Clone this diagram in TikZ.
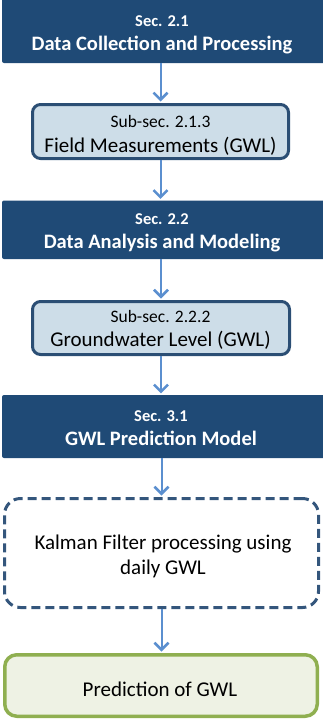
\documentclass[tikz,border=0pt]{standalone}
\usepackage{fontspec}
\setmainfont{Carlito}
\usetikzlibrary{arrows.meta}

\definecolor{secblue}{HTML}{1F4A76}
\definecolor{subfill}{HTML}{CDDDE8}
\definecolor{subedge}{HTML}{2B4E74}
\definecolor{kfedge}{HTML}{34567C}
\definecolor{flowblue}{HTML}{5B8FCF}
\definecolor{outedge}{HTML}{8FAF50}
\definecolor{outfill}{HTML}{EEF2E4}

\begin{document}
\begin{tikzpicture}[x=1pt,y=-1pt,
        secbox/.style={fill=secblue,rounded corners=2pt,minimum width=338pt,inner sep=0pt},
        subbox/.style={draw=subedge,fill=subfill,line width=3pt,rounded corners=8pt,inner sep=0pt},
        sectext/.style={text=white,font=\bfseries\fontsize{20.5}{24}\selectfont,align=center,inner sep=0pt,anchor=base},
        subtext/.style={font=\fontsize{21}{24.5}\selectfont,align=center,inner sep=0pt,anchor=base},
        flow/.style={draw=flowblue,line width=2pt,shorten >=1.5pt,-{Straight Barb[length=7pt,width=14pt,line width=2.5pt]}}]
        \useasboundingbox (0,0) rectangle (322,720);
        \node[secbox,minimum height=69pt] (sec21) at (171,28.5) {};
        \node[sectext] (sec21txt) at (162,50) {{\fontsize{16.5}{18}\selectfont Sec. 2.1}\\Data Collection and Processing};
        \node[subbox,minimum width=256pt,minimum height=54pt] (sub213) at (160.5,131.5) {};
        \node[subtext] (sub213txt) at (160.5,152.3) {{\fontsize{17.5}{20}\selectfont Sub-sec. 2.1.3}\\Field Measurements (GWL)};
        \node[secbox,minimum height=58.5pt] (sec22) at (171,229.75) {};
        \node[sectext] (sec22txt) at (162,248.3) {{\fontsize{16.5}{18}\selectfont Sec. 2.2}\\Data Analysis and Modeling};
        \node[subbox,minimum width=257pt,minimum height=53pt] (sub222) at (161,328) {};
        \node[subtext] (sub222txt) at (160.5,346.7) {{\fontsize{17.5}{20}\selectfont Sub-sec. 2.2.2}\\Groundwater Level (GWL)};
        \node[secbox,minimum height=63pt] (sec31) at (171,426.5) {};
        \node[sectext] (sec31txt) at (161,445.7) {{\fontsize{16.5}{18}\selectfont Sec. 3.1}\\GWL Prediction Model};
        \node[draw=kfedge,line width=3pt,dash pattern=on 9pt off 5pt,rounded corners=16pt,
              minimum width=314pt,minimum height=109pt,inner sep=0pt] (kalman) at (161.5,553) {};
        \node[subtext] (kalmantxt) at (163,574) {Kalman Filter processing using\\daily GWL};
        \node[draw=outedge,fill=outfill,line width=3.5pt,rounded corners=12pt,
              minimum width=312.5pt,minimum height=61.5pt,inner sep=0pt] (predict) at (161,685.5) {};
        \node[subtext] (predicttxt) at (160,696.7) {Prediction of GWL};
        \draw[flow] (sec21.south -| sub213.north) -- (sub213.north);
        \draw[flow] (sub213.south) -- (sub213.south |- sec22.north);
        \draw[flow] (sec22.south -| sub222.north) -- (sub222.north);
        \draw[flow] (sub222.south) -- (sub222.south |- sec31.north);
        \draw[flow] (sec31.south -| kalman.north) -- (kalman.north);
        \draw[flow] (kalman.south) -- (kalman.south |- predict.north);
\end{tikzpicture}
\end{document}
